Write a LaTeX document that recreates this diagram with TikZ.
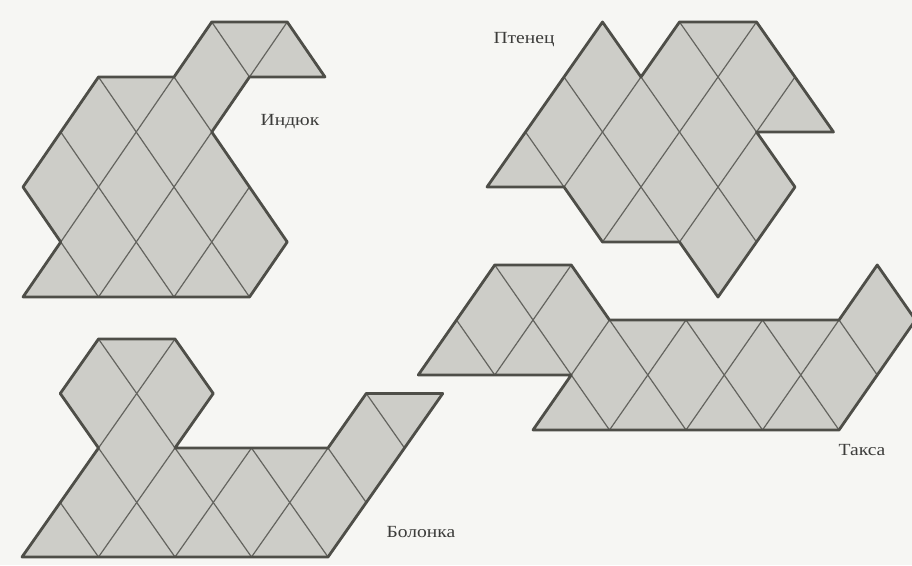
\documentclass[tikz,border=0pt]{standalone}
\usepackage{fontspec}
\setmainfont{Liberation Serif}
\definecolor{bgc}{RGB}{246,246,243}
\definecolor{fillc}{RGB}{205,205,200}
\definecolor{edgec}{RGB}{78,78,72}
\definecolor{gridc}{RGB}{100,100,95}
\definecolor{txtc}{RGB}{60,60,58}
\tikzset{
  outline/.style={draw=edgec, line width=2.8pt, line join=round},
  gridline/.style={draw=gridc, line width=1.2pt},
  labeltext/.style={font=\fontsize{17}{17}\selectfont, text=txtc, xscale=1.15, transform shape, inner sep=0pt},
}
\newcommand{\trishape}[1]{%
  \fill[fillc] #1 -- cycle;
  \begin{scope}
    \clip #1 -- cycle;
    \foreach \k in {-10,...,10} {
      \draw[gridline] (\k,-2) -- (\k,8);
      \draw[gridline] (\k+2,-2) -- (\k-8,8);
    }
  \end{scope}
  \draw[outline] #1 -- cycle;
}
\begin{document}
\begin{tikzpicture}
\useasboundingbox (0pt,0pt) rectangle (912pt,565pt);
\fill[bgc] (0pt,0pt) rectangle (912pt,565pt);

% Indyuk
\begin{scope}[shift={(23pt,268pt)}, x={(75.5pt,0pt)}, y={(37.75pt,55pt)}]
  \trishape{(0,0) -- (3,0) -- (3,1) -- (2,2) -- (1,3) -- (1,4) -- (2,4) -- (1,5) -- (0,5) -- (0,4) -- (-1,4) -- (-1,3) -- (-1,2) -- (0,1)}
\end{scope}

% Ptenets
\begin{scope}[shift={(718pt,268pt)}, x={(77pt,0pt)}, y={(38.5pt,55pt)}]
  \trishape{(0,0) -- (0,2) -- (-1,3) -- (0,3) -- (-2,5) -- (-3,5) -- (-3,4) -- (-4,5) -- (-4,2) -- (-3,2) -- (-2,1) -- (-1,1)}
\end{scope}

% Bolonka
\begin{scope}[shift={(22pt,8pt)}, x={(76.5pt,0pt)}, y={(38.25pt,54.5pt)}]
  \trishape{(0,0) -- (4,0) -- (4,3) -- (3,3) -- (3,2) -- (1,2) -- (1,3) -- (0,4) -- (-1,4) -- (-1,3) -- (0,2)}
\end{scope}

% Taksa
\begin{scope}[shift={(533pt,135pt)}, x={(76.5pt,0pt)}, y={(38.25pt,55pt)}]
  \trishape{(0,0) -- (4,0) -- (4,2) -- (3,3) -- (3,2) -- (0,2) -- (-1,3) -- (-2,3) -- (-2,1) -- (0,1)}
\end{scope}

\node[labeltext] (indyuk) at (290pt,443pt) {Индюк};
\node[labeltext] (ptenets) at (524pt,525pt) {Птенец};
\node[labeltext] (bolonka) at (421pt,33pt) {Болонка};
\node[labeltext] (taksa) at (862pt,115pt) {Такса};
\end{tikzpicture}
\end{document}
